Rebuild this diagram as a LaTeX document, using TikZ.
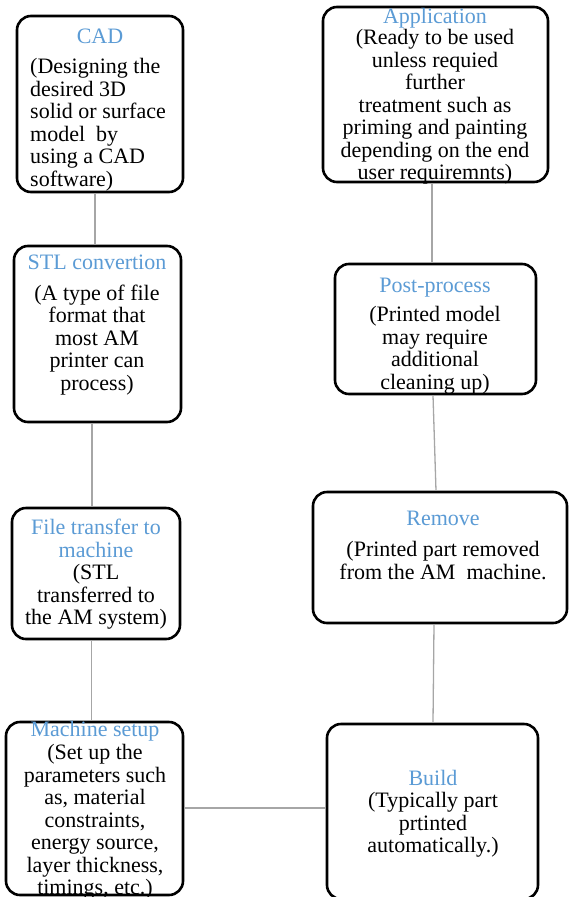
\documentclass[tikz,border=0pt]{standalone}
\usepackage{fontspec}
\setmainfont{Liberation Serif}
\usetikzlibrary{calc}
\definecolor{ttlblue}{HTML}{5B9BD5}
\definecolor{conngray}{HTML}{A6A6A6}
\tikzset{
  box/.style={draw=black, line width=2.6pt, rounded corners=14pt, fill=white, inner sep=0pt},
  conn/.style={draw=conngray, line width=1.3pt},
  ttl/.style={inner sep=0pt, anchor=base, text=ttlblue, font=\fontsize{22}{22.5}\selectfont},
  body/.style={inner sep=0pt, anchor=north, align=center, font=\fontsize{22}{22.5}\selectfont, execute at begin node=\strut},
}
\begin{document}
\begin{tikzpicture}[x=1pt, y=-1pt]
\useasboundingbox (0,0) rectangle (569,897);
% boxes
\node[box, minimum width=166pt, minimum height=176pt] (cad) at (100,104) {};
\node[box, minimum width=225pt, minimum height=175pt] (app) at (435.5,94.5) {};
\node[box, minimum width=167pt, minimum height=176pt] (stl) at (97.5,334) {};
\node[box, minimum width=201pt, minimum height=130pt] (post) at (435.5,329) {};
\node[box, minimum width=168pt, minimum height=131pt] (file) at (96,573.5) {};
\node[box, minimum width=254pt, minimum height=131pt] (remove) at (440,557.5) {};
\node[box, minimum width=177pt, minimum height=173pt] (setup) at (94.5,808.5) {};
\node[box, minimum width=211pt, minimum height=175pt] (build) at (432.5,811.5) {};
% connectors
\draw[conn] ($(cad.south)+(-5,0)$) -- ($(stl.north)+(-2.5,0)$);
\draw[conn] ($(stl.south)+(-5.5,0)$) -- ($(file.north)+(-4,0)$);
\draw[conn] ($(file.south)+(-4.5,0)$) -- ($(setup.north)+(-3,0)$);
\draw[conn] ($(setup.east)+(0,-0.5)$) -- ($(build.west)+(0,-3.5)$);
\draw[conn] ($(build.north)+(0.5,0)$) -- ($(remove.south)+(-6,0)$);
\draw[conn] ($(remove.north)+(-4,0)$) -- ($(post.south)+(-2.5,0)$);
\draw[conn] ($(post.north)+(-3.5,0)$) -- ($(app.south)+(-3.5,0)$);
% texts
\node[ttl] (cadt) at (100,43) {CAD};
\node[body, anchor=north west, align=left] (cadb) at (30,58.25) {(Designing the\\desired 3D\\solid or surface\\model\ \ by\\using a CAD\\software)};
\node[ttl] (appt) at (435,23) {Application};
\node[body] (appb) at (435,29.25) {(Ready to be used\\unless requied\\further\\treatment such as\\priming and painting\\depending on the end\\user requiremnts)};
\node[ttl] (stlt) at (97,269) {STL convertion};
\node[body] (stlb) at (97,284.5) {(A type of file\\format that\\most AM\\printer can\\process)};
\node[ttl] (postt) at (435,292) {Post-process};
\node[body] (postb) at (435,306.25) {(Printed model\\may require\\additional\\cleaning up)};
\node[body, text=ttlblue] (filet) at (96,519.25) {File transfer to\\machine};
\node[body] (fileb) at (96,564.25) {(STL\\transferred to\\the AM system)};
\node[ttl] (removet) at (443,525.5) {Remove};
\node[body] (removeb) at (443,541.25) {(Printed part removed\\from the AM\ \ machine.};
\node[ttl] (setupt) at (95,736.5) {Machine setup};
\node[body] (setupb) at (95,744.25) {(Set up the\\parameters such\\as, material\\constraints,\\energy source,\\layer thickness,\\timings, etc.)};
\node[ttl] (buildt) at (433,785) {Build};
\node[body] (buildb) at (433,792.25) {(Typically part\\prtinted\\automatically.)};
\end{tikzpicture}
\end{document}
